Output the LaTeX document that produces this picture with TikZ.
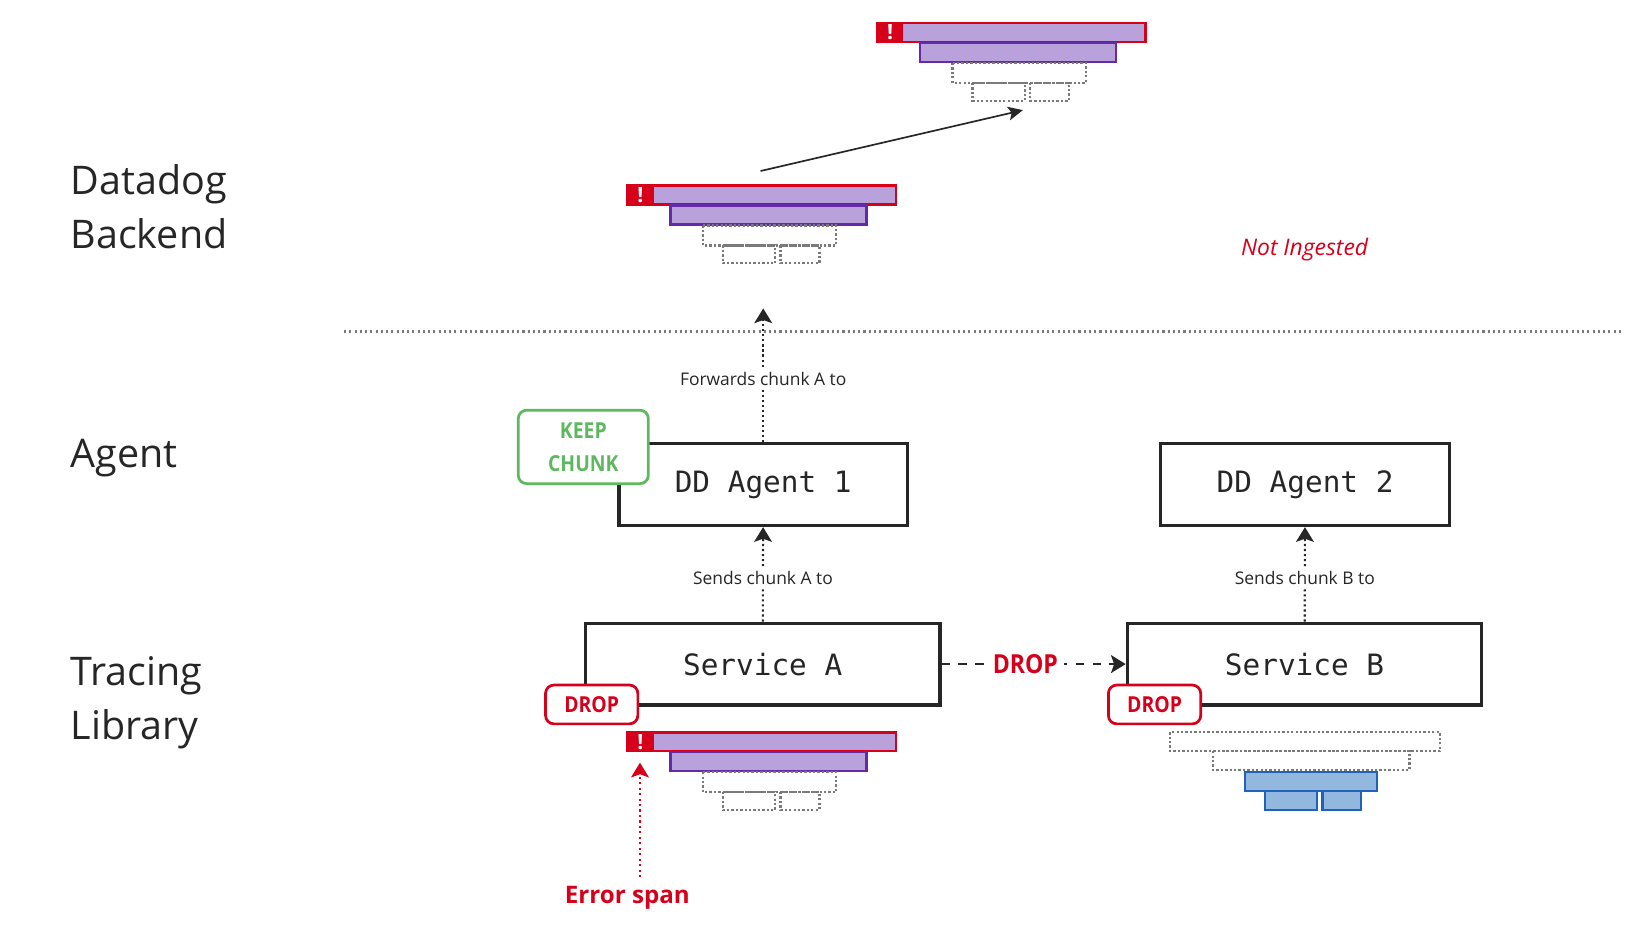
\documentclass[tikz,border=0pt]{standalone}
\usepackage{fontspec}
\setmainfont{Open Sans}
\setmonofont{DejaVu Sans Mono}
\newfontfamily\tagfont{Open Sans}[FakeStretch=0.88]
\usetikzlibrary{arrows.meta,positioning}

\definecolor{ink}{HTML}{262626}
\definecolor{ddred}{HTML}{D7001B}
\definecolor{ddpurple}{HTML}{632CA6}
\definecolor{lilac}{HTML}{B9A2DB}
\definecolor{ghostgrey}{HTML}{7A7A7A}
\definecolor{ddblue}{HTML}{1F62B8}
\definecolor{skyblue}{HTML}{92B8E0}
\definecolor{keepgreen}{HTML}{5DB860}

% span bars of one trace
\tikzset{
  errbar/.style = {draw=ddred, fill=lilac, line width=1.2pt},
  lilacbar/.style = {draw=ddpurple, fill=lilac, line width=1.1pt},
  ghost/.style = {draw=ghostgrey, line width=1.1pt, dash pattern=on 1.1pt off 1pt},
  bluebar/.style = {draw=ddblue, fill=skyblue, line width=1.1pt},
  errtrace/.pic = {
    \draw[errbar] (0,0) rectangle (256,18);
    \fill[ddred] (0,0) rectangle (25,18);
    \node[font=\bfseries\fontsize{10}{10}\selectfont, text=white, inner sep=0pt] (-bang) at (12.5,9) {!};
    \draw[lilacbar] (41,19) rectangle (228,37);
    \draw[ghost] (72,38) rectangle (199,57);
    \draw[ghost] (91,57) rectangle (141,74);
    \draw[ghost] (146,57) rectangle (183,74);
  },
  droptrace/.pic = {
    \draw[ghost] (0,0) rectangle (257,18);
    \draw[ghost] (41,18) rectangle (228,36);
    \draw[bluebar] (71,38) rectangle (197,56);
    \draw[bluebar] (90,56) rectangle (140,74);
    \draw[bluebar] (145,56) rectangle (182,74);
  }
}

\begin{document}
\begin{tikzpicture}
    [x=0.5pt, y=-0.5pt,
     layer/.style = {font=\fontsize{18.8}{25.8}\selectfont, text=ink, align=left, inner sep=0pt},
     box/.style = {draw=ink, line width=1.5pt, fill=white, text=ink, font=\ttfamily\fontsize{14}{16}\selectfont},
     agent/.style = {box, minimum width=137.5pt, minimum height=39pt},
     service/.style = {box, minimum width=169pt, minimum height=39pt},
     tag/.style = {rounded corners=4pt, line width=1.3pt, fill=white, align=center, inner sep=0pt,
                   font=\tagfont\bfseries\fontsize{10.5}{15.7}\selectfont},
     say/.style = {font=\fontsize{8.3}{10}\selectfont, text=ink, fill=white, inner sep=2pt},
     flow/.style = {ink, line width=1pt, dash pattern=on 1pt off 1.4pt,
                    -{Stealth[length=7pt, width=8.5pt, inset=1.5pt]}},
     ]
    \useasboundingbox (0,0) rectangle (1568,892);

    % layers
    \node[layer, anchor=west] (backendlbl) at (67,197) {Datadog\\Backend};
    \node[layer, anchor=base west] (agentlbl) at (67,446) {Agent};
    \node[layer, anchor=west] (tracerlbl) at (67,670) {Tracing\\Library};
    \draw[ghostgrey, line width=1pt, dash pattern=on 1pt off 1.5pt] (328,316) -- (1545,316);

    % boxes
    \node[agent] (agent1) at (727.5,462) {DD Agent 1};
    \node[agent] (agent2) at (1244,462) {DD Agent 2};
    \node[service] (serviceA) at (727,633) {Service A};
    \node[service] (serviceB) at (1243.5,633) {Service B};

    % traces
    \pic (ingested) at (836,22) {errtrace};
    \pic (received) at (598,177) {errtrace};
    \pic (traceA) at (598,698) {errtrace};
    \pic (traceB) at (1115.5,698) {droptrace};

    % connectors
    \coordinate (up) at (727.5,294);
    \draw[flow] (agent1) -- node[say, pos=.47] {Forwards chunk A to} (up);
    \draw[flow] (serviceA) -- node[say, pos=.46] {Sends chunk A to} (agent1);
    \draw[flow] (serviceB) -- node[say, pos=.46] {Sends chunk B to} (agent2);
    \draw[ink, line width=1.2pt, dash pattern=on 4pt off 4pt,
          -{Stealth[length=7pt, width=8.5pt, inset=1.5pt]}]
      (serviceA) -- node[pos=.455, fill=white, inner sep=3pt, text=ddred,
                         font=\tagfont\bfseries\fontsize{12.5}{14}\selectfont] (lost) {DROP} (serviceB);
    \coordinate (from) at (725,163);
    \coordinate (to) at (975,105);
    \draw[ink, line width=.8pt, -{Stealth[length=7pt, width=6.5pt, inset=1.5pt]}] (from) -- (to);

    \node[font=\itshape\fontsize{10.9}{12}\selectfont, text=ddred, anchor=base] (noting) at (1243.5,243.6) {Not Ingested};

    % tags
    \node[tag, draw=keepgreen, text=keepgreen, minimum width=62pt, minimum height=35pt] (keep) at (556,426) {KEEP\\CHUNK};
    \node[tag, draw=ddred, text=ddred, minimum width=44pt, minimum height=18.5pt] (dropA) at (564,671.5) {DROP};
    \node[tag, draw=ddred, text=ddred, minimum width=44pt, minimum height=18.5pt] (dropB) at (1100.5,671.5) {DROP};

    % error span
    \node[font=\bfseries\fontsize{11.5}{12}\selectfont, text=ddred, anchor=base] (errlbl) at (598,861) {Error span};
    \coordinate (errfoot) at (610,836);
    \coordinate (errtip) at (610,727);
    \draw[ddred, line width=1pt, dash pattern=on 1pt off 1.6pt,
          -{Stealth[length=7pt, width=8.5pt, inset=1.5pt]}] (errfoot) -- (errtip);
\end{tikzpicture}
\end{document}
